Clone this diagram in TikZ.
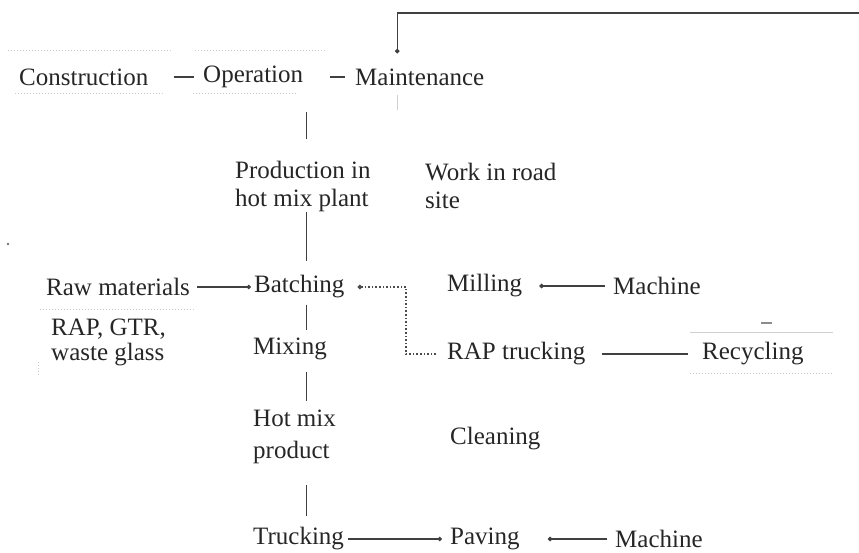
\documentclass[tikz,border=0pt]{standalone}
\usepackage{fontspec}
\setmainfont{Liberation Serif}
\usetikzlibrary{arrows.meta}
\begin{document}
\begin{tikzpicture}[x=1pt,y=-1pt,
  lbl/.style={inner sep=0pt, anchor=west, align=left,
    font=\fontsize{25}{28}\selectfont, text=black!85},
  link/.style={draw=black!75, line width=1.1pt},
  dotlink/.style={draw=black!70, line width=1.6pt, dotted},
  faint/.style={draw=black!18, line width=1pt},
  faintdot/.style={draw=black!20, line width=1pt, dotted},
  tip/.style={-{Circle[length=4.5pt]}},
]
\useasboundingbox (0,0) rectangle (859,553);

% phases
\node[lbl] (con)  at (19,77)  {Construction};
\node[lbl] (op)   at (203,77) {Operation};
\node[lbl] (mnt)  at (355,77) {Maintenance};

% plant / site
\node[lbl] (prod) at (235,186) {Production in\\hot mix plant};
\node[lbl] (work) at (425,186) {Work in road\\site};

% plant chain
\node[lbl] (raw)    at (46,287)  {Raw materials};
\node[lbl] (batch)  at (254,287) {Batching};
\node[lbl] (rapmat) at (51,342)  {RAP, GTR,\\[-3pt]waste glass};
\node[lbl] (mix)    at (253,349) {Mixing};
\node[lbl] (hot)    at (253,437) {Hot mix\\[4pt]product};
\node[lbl] (truck)  at (253,539) {Trucking};

% site chain
\node[lbl] (mill)  at (447,286) {Milling};
\node[lbl] (mach1) at (613,286) {Machine};
\node[lbl] (rapt)  at (447,354) {RAP trucking};
\node[lbl] (rec)   at (702,354) {Recycling};
\node[lbl] (clean) at (450,439) {Cleaning};
\node[lbl] (pave)  at (450,539) {Paving};
\node[lbl] (mach2) at (615,539) {Machine};

% top feed into Maintenance
\coordinate (corner) at (859,13);
\draw[link, tip, shorten >=15pt] (corner) -| ([xshift=-22.5pt]mnt.north);

% phase chain
\draw[link, shorten <=25pt, shorten >=9pt] (con.east) -- (op.west);
\draw[link, shorten <=27pt, shorten >=10pt] (op.east) -- (mnt.west);
\draw[faint] ([xshift=-22.5pt,yshift=-9pt]mnt.south) -- ++(0,15);

% vertical spine of the plant
\draw[link, shorten <=21pt, shorten >=24pt]
  ([xshift=4pt]prod.north) -- ([xshift=4pt]prod.north |- op.south);
\draw[link, shorten >=14pt]
  ([xshift=4pt]prod.south) -- ([xshift=4pt]prod.south |- batch.north);
\draw[link, shorten <=6pt, shorten >=8pt]
  ([xshift=4pt]prod.south |- batch.south) -- ([xshift=4pt]prod.south |- mix.north);
\draw[link, shorten <=12pt, shorten >=9pt]
  ([xshift=4pt]prod.south |- mix.south) -- ([xshift=4pt]prod.south |- hot.north);
\draw[link, shorten <=21pt, shorten >=11pt]
  ([xshift=4pt]prod.south |- hot.south) -- ([xshift=4pt]prod.south |- truck.north);

% horizontal links
\draw[link, tip, shorten <=7pt, shorten >=3pt] (raw.east) -- (batch.west);
\draw[dotlink, tip, shorten <=11pt, shorten >=13pt]
  (rapt.west) -- ++(-41,0) |- (batch.east);
\draw[link, tip, shorten <=8pt, shorten >=17pt] (mach1.west) -- (mill.east);
\draw[link, shorten <=16pt, shorten >=14pt] (rapt.east) -- (rec.west);
\draw[link, tip, shorten <=4pt, shorten >=8pt] (truck.east) -- (pave.west);
\draw[link, tip, shorten <=8pt, shorten >=28pt] (mach2.west) -- (pave.east);

% faded box edges
\draw[faintdot] (8,51) -- (172,51);
\draw[faintdot] (195,51) -- (325,51);
\draw[faintdot] (15,94) -- (165,94);
\draw[faintdot] (193,94) -- (298,94);
\draw[faintdot] (40,309) -- (195,309);
\draw[faintdot] (38,362) -- (38,377);
\draw[faint] (690,332) -- (833,332);
\draw[faintdot] (690,373) -- (833,373);
\draw[draw=black!45, line width=1.3pt] (761,323) -- (772,323);
\fill[black!55] (8,244) circle (1.4pt);
\end{tikzpicture}
\end{document}
